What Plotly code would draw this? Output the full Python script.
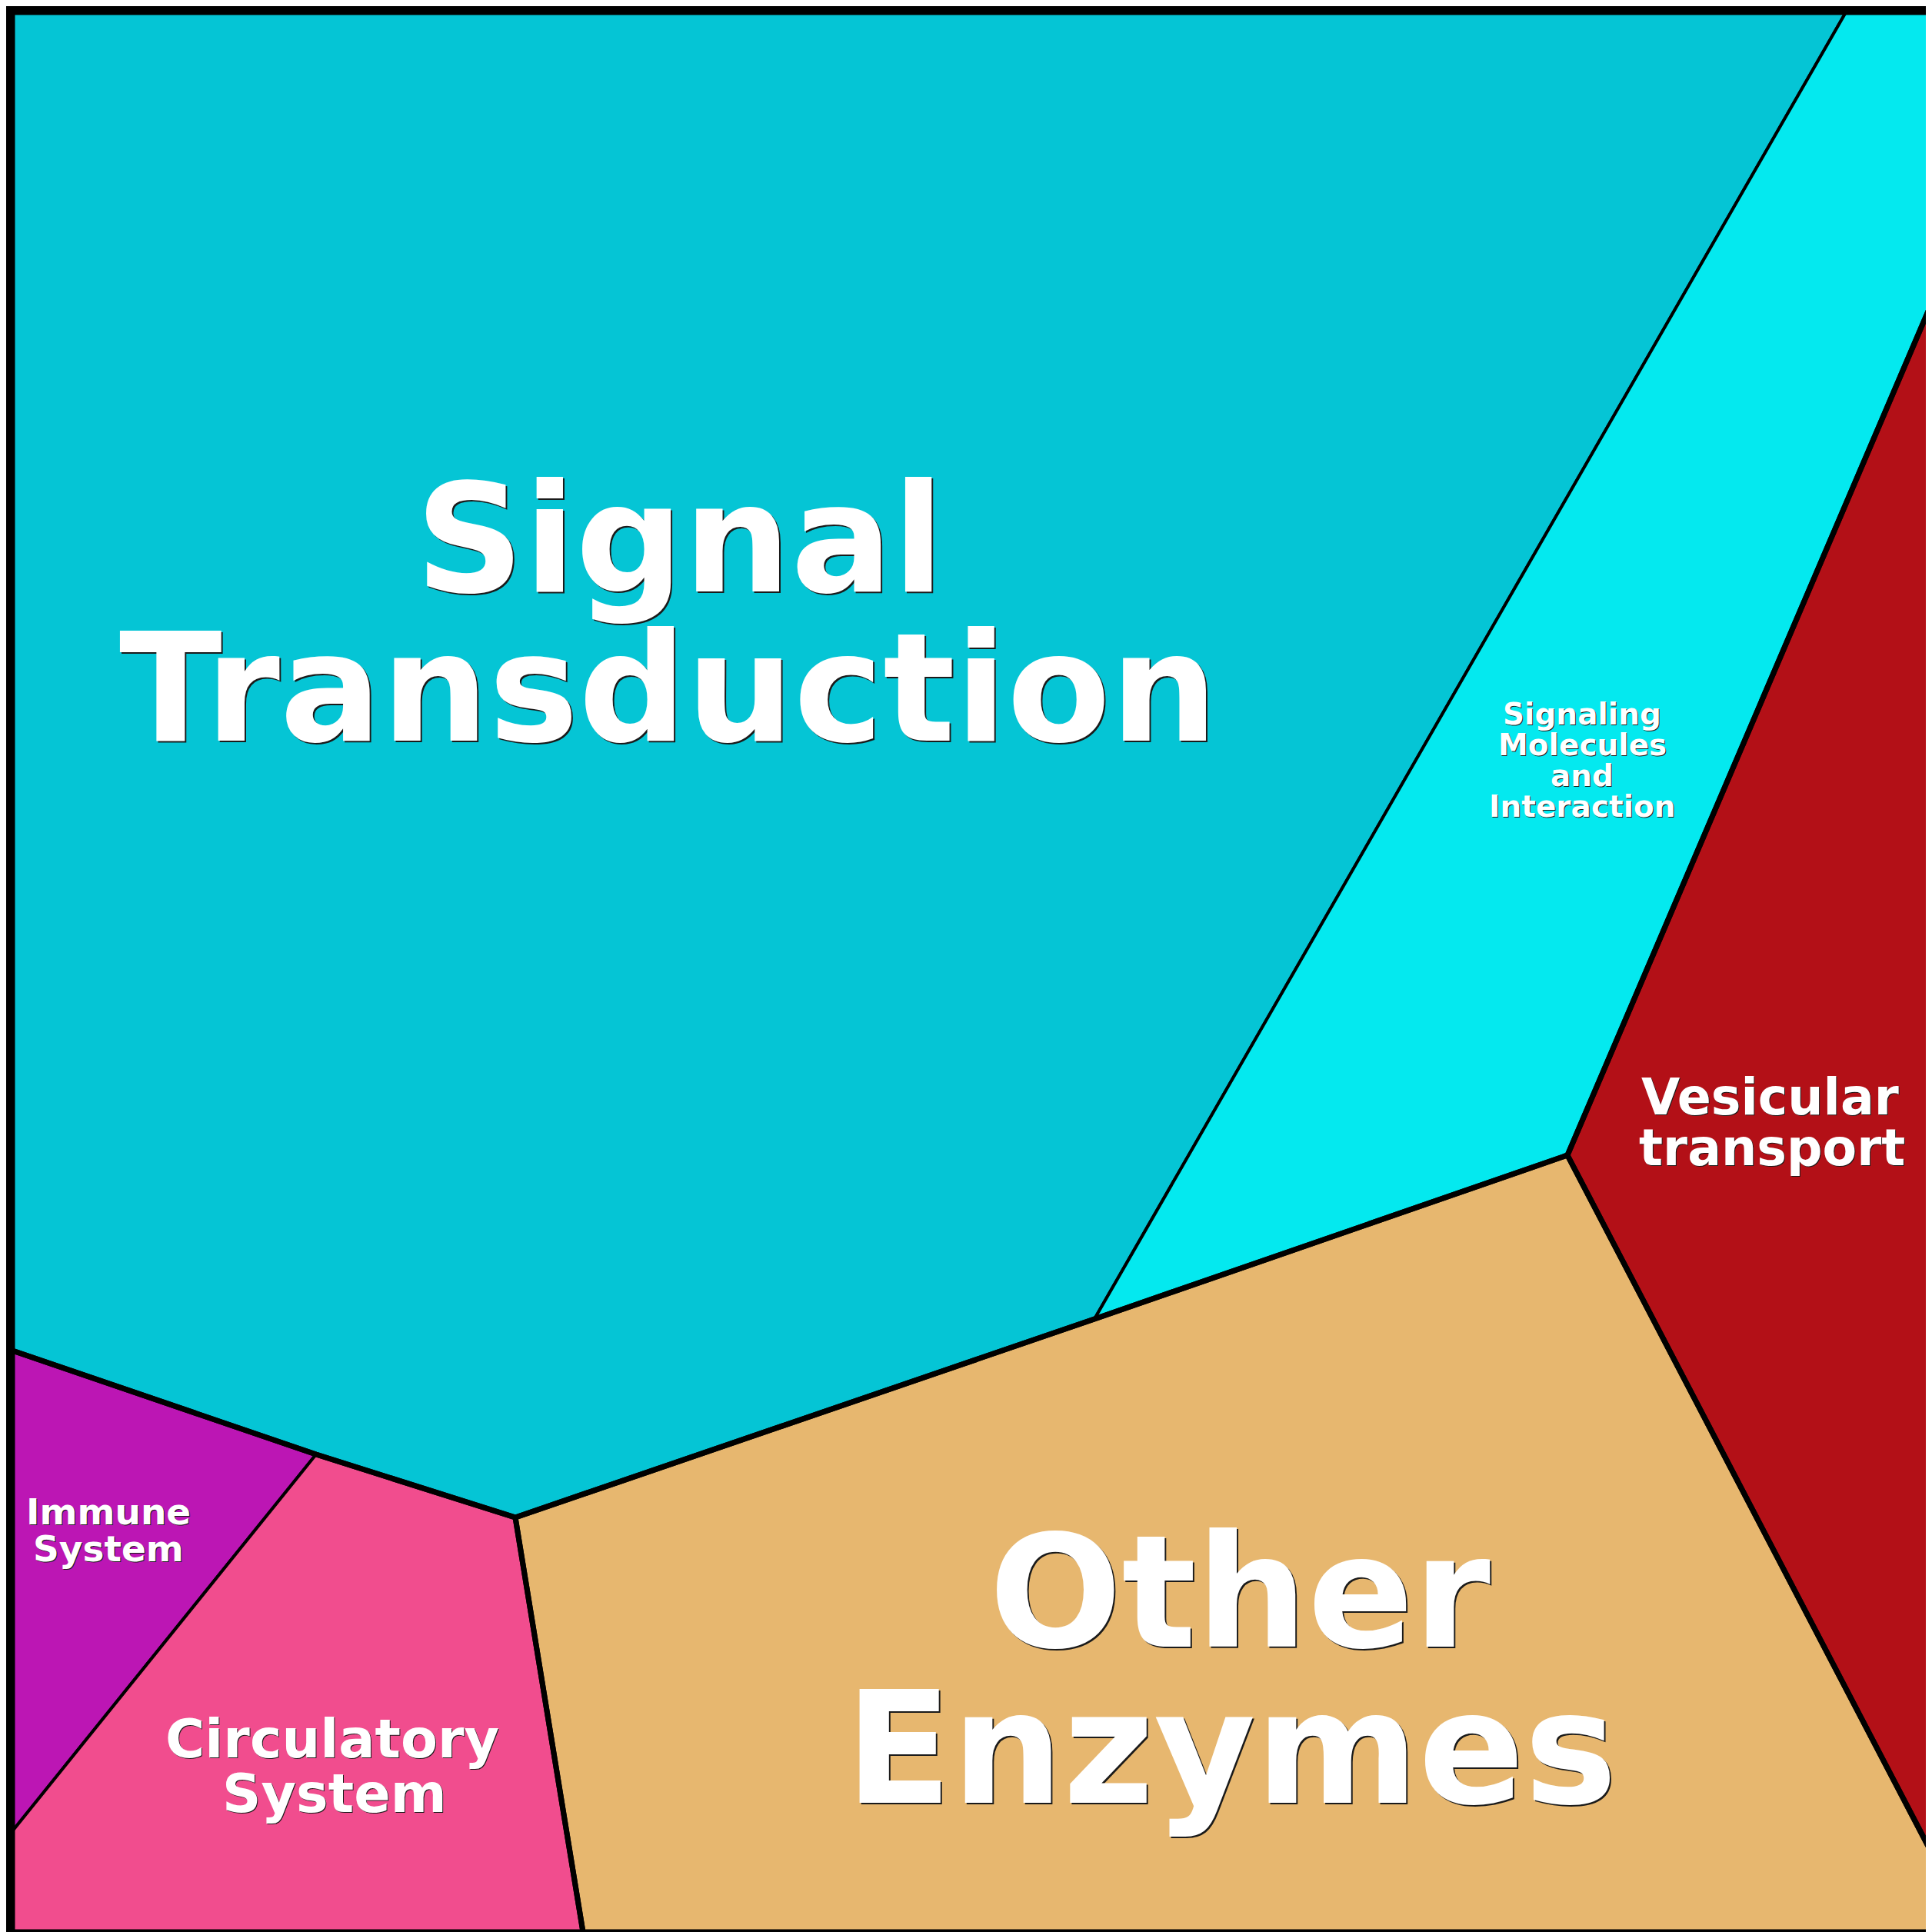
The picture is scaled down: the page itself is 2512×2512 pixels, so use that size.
import plotly.graph_objects as go

# ---- data: cell polygons (Voronoi treemap cells), in pixel-space units ----
signal_transduction = [(8, 8), (2392, 8), (1415, 1707), (662, 1965), (403, 1883), (8, 1748)]
signaling_molecules = [(2392, 8), (2504, 8), (2504, 385), (2030, 1494), (1415, 1707)]
vesicular_transport = [(2504, 385), (2504, 2402), (2030, 1494)]
other_enzymes = [(662, 1965), (1415, 1707), (2030, 1494), (2504, 2402), (2504, 2504), (750, 2504)]
immune_system = [(8, 1748), (403, 1883), (8, 2373)]
circulatory_system = [(8, 2373), (403, 1883), (662, 1965), (750, 2504), (8, 2504)]

# top-level group outlines
group_signaling = [(8, 8), (2504, 8), (2504, 385), (2030, 1494), (1415, 1707),
                   (662, 1965), (403, 1883), (8, 1748)]
group_vesicular = vesicular_transport
group_enzymes = other_enzymes
group_organismal = [(8, 1748), (403, 1883), (662, 1965), (750, 2504), (8, 2504)]

cells = [signal_transduction, signaling_molecules, vesicular_transport,
         other_enzymes, immune_system, circulatory_system]
cell_colors = ["#05C5D5", "#04E9EF", "#B31017", "#E7B76F", "#BC16B4", "#F14D8E"]
groups = [group_signaling, group_vesicular, group_enzymes, group_organismal]

# labels: (text lines, center x, baselines, font size)
labels = [
    (["Signal", "Transduction"], [876, 861], [777, 971], 196),
    (["Signaling", "Molecules", "and", "Interaction"], [2049, 2049, 2049, 2049], [942, 982, 1022, 1062], 39),
    (["Vesicular", "transport"], [2293, 2296], [1450, 1516], 65),
    (["Other", "Enzymes"], [1604, 1593], [2149, 2352], 203),
    (["Immune", "System"], [133, 133], [1982, 2030], 47),
    (["Circulatory", "System"], [424, 427], [2287, 2358], 70),
]

fig = go.Figure()


def closed(poly):
    xs = [p[0] for p in poly] + [poly[0][0]]
    ys = [p[1] for p in poly] + [poly[0][1]]
    return xs, ys


for poly, col in zip(cells, cell_colors):
    xs, ys = closed(poly)
    fig.add_trace(go.Scatter(x=xs, y=ys, mode="lines", fill="toself", fillcolor=col,
                             line=dict(color="black", width=4), hoverinfo="skip",
                             showlegend=False))

for poly in groups:
    xs, ys = closed(poly)
    fig.add_trace(go.Scatter(x=xs, y=ys, mode="lines",
                             line=dict(color="black", width=7), hoverinfo="skip",
                             showlegend=False))

for lines, xcs, bls, fs in labels:
    sh = "2px 2px 0px #1a1a1a" if fs > 100 else "1px 1px 0px #1a1a1a"
    for t, xc, bl in zip(lines, xcs, bls):
        yc = bl - 0.346 * fs - (6 + 0.05 * fs)
        fig.add_annotation(x=xc, y=yc, xref="x", yref="y", text=t,
                           showarrow=False, xanchor="center", yanchor="middle",
                           font=dict(family="DejaVu Sans", size=fs, color="white",
                                     weight="bold", shadow=sh))

fig.update_layout(
    width=2512, height=2512,
    margin=dict(l=0, r=0, t=0, b=0),
    paper_bgcolor="black", plot_bgcolor="black",
    xaxis=dict(range=[0, 2512], visible=False, fixedrange=True),
    yaxis=dict(range=[2512, 0], visible=False, fixedrange=True),
)

fig.write_html("out.html")
